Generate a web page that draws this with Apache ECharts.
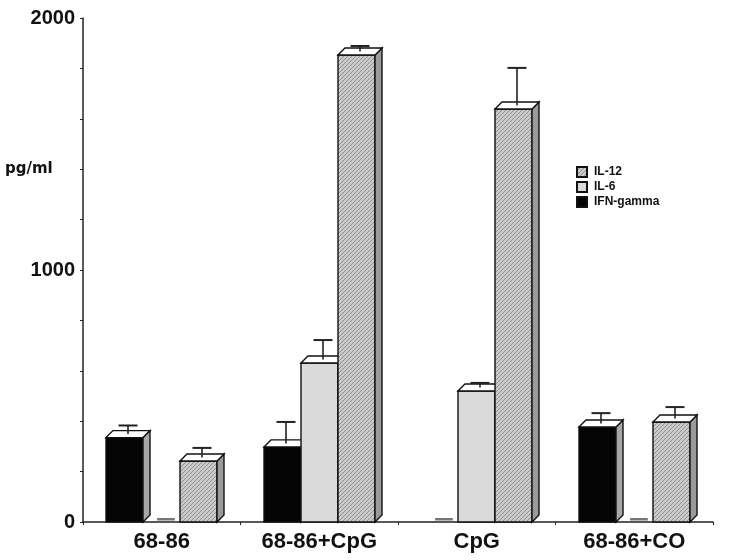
<!DOCTYPE html>
<html>
<head>
<meta charset="utf-8">
<script src="https://cdn.jsdelivr.net/npm/echarts@6/dist/echarts.min.js"></script>
<style>
html,body{margin:0;padding:0;background:#fff;}
#chart{width:750px;height:560px;}
</style>
</head>
<body>
<div id="chart"></div>
<script>
// ---- data ----
var categories = ['68-86', '68-86+CpG', 'CpG', '68-86+CO'];
var ifnGamma    = [335, 298, 0, 377];
var ifnGammaErr = [48, 99, 0, 55];
var il6         = [0, 631, 520, 0];
var il6Err      = [0, 91, 32, 0];
var il12        = [242, 1853, 1639, 397];
var il12Err     = [52, 36, 163, 59];
var yTickLabels = [0, 1000, 2000];

// ---- styles ----
function hatch() {
  var c = document.createElement('canvas');
  c.width = 4; c.height = 4;
  var g = c.getContext('2d');
  g.fillStyle = '#cbcbcb';
  g.fillRect(0, 0, 4, 4);
  g.strokeStyle = '#8e8e8e';
  g.lineWidth = 1;
  g.beginPath();
  g.moveTo(0, 4); g.lineTo(4, 0);
  g.moveTo(-1, 1); g.lineTo(1, -1);
  g.moveTo(3, 5); g.lineTo(5, 3);
  g.stroke();
  return c;
}
var hatchFill = { image: hatch(), repeat: 'repeat' };

var D = 7; // 3D depth in px

function makeRender(k, fill, sideFill) {
  return function (params, api) {
    var cat = api.value(0), v = api.value(1), e = api.value(2);
    var base = api.coord([cat, 0]);
    var band = api.size([1, 0])[0];
    var bw = Math.round(band * 0.236);
    var x0 = Math.round(base[0] - 1.5 * bw + k * bw);
    var y0 = base[1];
    var children = [];
    if (!(v > 0)) {
      children.push({
        type: 'rect',
        shape: { x: x0 + bw * 0.38, y: y0 - 4, width: bw * 0.48, height: 2.5 },
        style: { fill: '#777777' }
      });
      return { type: 'group', children: children };
    }
    var yt = api.coord([cat, v])[1];
    var stroke = { stroke: '#111', lineWidth: 1.4 };
    children.push({
      type: 'rect',
      shape: { x: x0, y: yt, width: bw, height: y0 - yt },
      style: Object.assign({ fill: fill }, stroke)
    });
    children.push({
      type: 'polygon',
      shape: { points: [[x0 + bw, yt], [x0 + bw + D, yt - D], [x0 + bw + D, y0 - D], [x0 + bw, y0]] },
      style: Object.assign({ fill: sideFill }, stroke)
    });
    children.push({
      type: 'polygon',
      shape: { points: [[x0, yt], [x0 + D, yt - D], [x0 + bw + D, yt - D], [x0 + bw, yt]] },
      style: Object.assign({ fill: '#ffffff' }, stroke)
    });
    if (e > 0) {
      var ye = api.coord([cat, v + e])[1];
      var cx = x0 + bw / 2 + D / 2;
      children.push({
        type: 'line',
        shape: { x1: cx, y1: yt - D / 2, x2: cx, y2: ye },
        style: { stroke: '#222', lineWidth: 1.6 }
      });
      children.push({
        type: 'line',
        shape: { x1: cx - 9.5, y1: ye, x2: cx + 9.5, y2: ye },
        style: { stroke: '#222', lineWidth: 2 }
      });
    }
    return { type: 'group', children: children };
  };
}

function toData(vals, errs) {
  return categories.map(function (c, i) { return [i, vals[i], errs[i]]; });
}

var chart = echarts.init(document.getElementById('chart'), null, { renderer: 'canvas' });
chart.setOption({
  backgroundColor: '#ffffff',
  animation: false,
  grid: { left: 83, right: 37, top: 18, bottom: 38 },
  legend: {
    orient: 'vertical',
    left: 571, top: 161,
    itemWidth: 10, itemHeight: 10, itemGap: 3,
    icon: 'rect',
    data: ['IL-12', 'IL-6', 'IFN-gamma'],
    textStyle: { fontFamily: 'Liberation Sans, Arial, sans-serif', fontWeight: 'bold', fontSize: 12, color: '#111', padding: [0, 0, 0, 2] }
  },
  graphic: [{
    type: 'text', left: 5, top: 162,
    style: { text: 'pg/ml', font: 'bold 15px "DejaVu Sans", sans-serif', fill: '#111' }
  }],
  xAxis: {
    type: 'category',
    data: categories,
    boundaryGap: true,
    axisLine: { lineStyle: { color: '#222', width: 1.5 } },
    axisTick: { show: true, length: 3, lineStyle: { color: '#222' } },
    axisLabel: { margin: 9, fontFamily: 'Liberation Sans, Arial, sans-serif', fontWeight: 'bold', fontSize: 22, color: '#111' },
    splitLine: { show: false }
  },
  yAxis: {
    type: 'value',
    min: 0, max: 2000, interval: 200,
    axisLine: { show: true, lineStyle: { color: '#222', width: 1.5 } },
    axisTick: { show: true, length: 3, lineStyle: { color: '#222' } },
    axisLabel: {
      margin: 8,
      fontFamily: 'Liberation Sans, Arial, sans-serif', fontWeight: 'bold', fontSize: 20, color: '#111',
      formatter: function (v) { return yTickLabels.indexOf(v) >= 0 ? String(v) : ''; }
    },
    splitLine: { show: false }
  },
  series: [
    {
      name: 'IFN-gamma', type: 'custom',
      renderItem: makeRender(0, '#050505', '#a8a8a8'),
      itemStyle: { color: '#050505', borderColor: '#111', borderWidth: 1 },
      encode: { x: 0, y: 1 },
      data: toData(ifnGamma, ifnGammaErr)
    },
    {
      name: 'IL-6', type: 'custom',
      renderItem: makeRender(1, '#dadada', '#a8a8a8'),
      itemStyle: { color: '#dadada', borderColor: '#111', borderWidth: 1 },
      encode: { x: 0, y: 1 },
      data: toData(il6, il6Err)
    },
    {
      name: 'IL-12', type: 'custom',
      renderItem: makeRender(2, hatchFill, '#9a9a9a'),
      itemStyle: { color: hatchFill, borderColor: '#111', borderWidth: 1 },
      encode: { x: 0, y: 1 },
      data: toData(il12, il12Err)
    }
  ]
});
</script>
</body>
</html>
